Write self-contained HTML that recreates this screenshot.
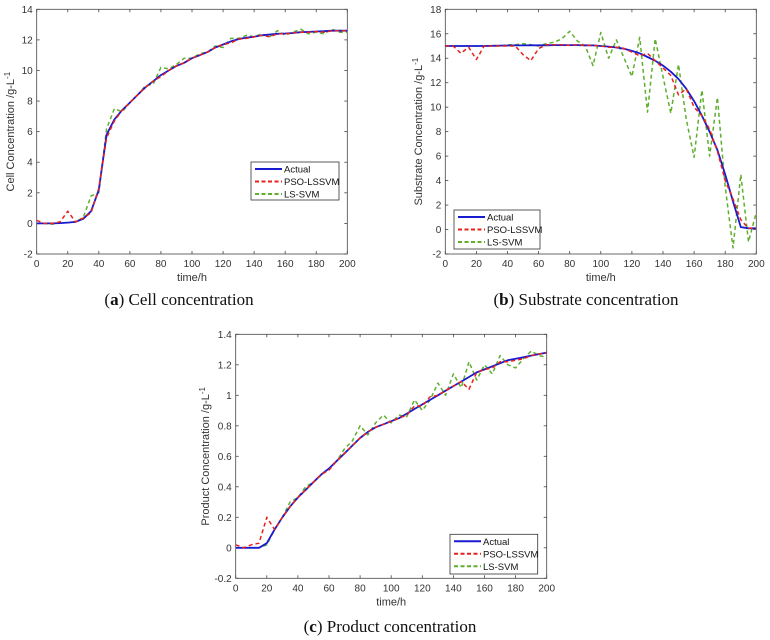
<!DOCTYPE html>
<html><head><meta charset="utf-8"><style>
body{margin:0;background:#fff;width:770px;height:640px;overflow:hidden}
svg{display:block}
.tk{font-family:"Liberation Sans",sans-serif;font-size:10px;fill:#333}
.lb{font-family:"Liberation Sans",sans-serif;font-size:11px;fill:#333}
.cap{font-family:"Liberation Serif",serif;font-size:17px;fill:#111}
</style></head><body>
<svg id="s" width="770" height="640" xmlns="http://www.w3.org/2000/svg"></svg>
<script>
const times=[0,5,10,15,20,25,30,35,40,45,50,55,60,65,70,75,80,85,90,95,100,105,110,115,120,125,130,135,140,145,150,155,160,165,170,175,180,185,190,195,200];
const cellActual=[0,0,0,0.02,0.05,0.1,0.3,0.8,2.2,5.8,6.8,7.4,7.9,8.4,8.9,9.3,9.7,10.0,10.3,10.5,10.8,11.0,11.2,11.5,11.7,11.9,12.05,12.15,12.2,12.3,12.35,12.4,12.42,12.45,12.5,12.52,12.55,12.57,12.6,12.6,12.6];
const cellPSO=[0.2,0,0,0.1,0.8,0.1,0.35,0.7,2.3,5.6,6.7,7.4,7.9,8.4,8.9,9.3,9.6,10.0,10.3,10.5,10.8,11.0,11.2,11.5,11.7,11.8,12.05,12.1,12.2,12.3,12.2,12.4,12.4,12.45,12.5,12.5,12.55,12.5,12.6,12.6,12.6];
const cellLS=[0,0,-0.05,0.05,0.05,0.1,0.4,1.8,2.0,6.2,7.5,7.3,7.9,8.4,9.0,9.1,10.2,10.1,10.4,10.8,10.8,11.1,11.2,11.6,11.5,12.1,12.1,12.3,12.2,12.4,12.2,12.6,12.3,12.5,12.7,12.4,12.5,12.4,12.7,12.5,12.5];
const subActual=[15,15,15,15,15,15,15.02,15.03,15.04,15.05,15.05,15.06,15.06,15.06,15.07,15.07,15.07,15.07,15.06,15.05,15.0,14.95,14.88,14.78,14.6,14.4,14.1,13.8,13.4,12.9,12.3,11.5,10.5,9.3,8.0,6.5,4.5,2.3,0.2,0.1,0.1];
const subPSO=[15,15,14.4,14.9,13.9,15,15,15,15,15,14.3,13.8,14.8,15.1,15.1,15.1,15.05,15.1,15.05,15.05,15.0,14.9,14.9,14.8,14.5,14.2,14.4,13.8,13.2,12.6,11.0,11.5,10.0,9.3,8.2,6.4,4.0,2.5,0.8,0.1,0.1];
const subLS=[15,15,15,15,15,15,15,15,15.1,15.1,15.2,15.1,15.0,15.2,15.3,15.6,16.2,15.4,15.0,13.4,16.1,14.0,15.5,14.0,12.5,15.7,9.6,15.6,12.5,9.5,13.5,9.0,5.9,11.4,6.0,10.8,3.5,-1.5,4.5,-1.0,1.4];
const proActual=[0,0,0,0,0.03,0.12,0.2,0.27,0.33,0.38,0.43,0.48,0.52,0.57,0.62,0.67,0.72,0.76,0.79,0.81,0.83,0.85,0.88,0.91,0.94,0.97,1.0,1.03,1.06,1.09,1.12,1.15,1.17,1.19,1.21,1.23,1.24,1.25,1.26,1.27,1.28];
const proPSO=[0.02,0,0.02,0.03,0.2,0.12,0.2,0.27,0.33,0.38,0.43,0.48,0.51,0.57,0.62,0.67,0.72,0.76,0.79,0.81,0.83,0.85,0.87,0.93,0.93,0.99,1.0,1.03,1.06,1.09,1.04,1.15,1.17,1.18,1.22,1.22,1.23,1.24,1.26,1.27,1.28];
const proLS=[0,0,0,0,0.02,0.12,0.2,0.3,0.33,0.4,0.43,0.48,0.52,0.57,0.65,0.7,0.8,0.74,0.82,0.87,0.82,0.87,0.86,0.97,0.9,0.97,1.08,1.0,1.14,1.05,1.22,1.1,1.2,1.14,1.26,1.2,1.18,1.24,1.29,1.26,1.25];
const xTicks=[0,20,40,60,80,100,120,140,160,180,200];

const S=document.getElementById('s');
const NS='http://www.w3.org/2000/svg';
function mk(tag,attrs,parent,text){const e=document.createElementNS(NS,tag);for(const k in attrs)e.setAttribute(k,attrs[k]);if(text!==undefined)e.textContent=text;(parent||S).appendChild(e);return e;}

function panel(cfg){
  const g=mk('g',{});
  
  
  const {x0,x1,y0,y1,ymin,ymax}=cfg;
  const sx=v=>x0+(v-0)/(200-0)*(x1-x0);
  const sy=v=>y1-(v-ymin)/(ymax-ymin)*(y1-y0);
  const box=mk('rect',{x:x0,y:y0,width:x1-x0,height:y1-y0,fill:'#fff',stroke:'#444','stroke-width':0.8},g);
  
  
  xTicks.forEach(t=>{
    const X=sx(t);
    mk('line',{x1:X,y1:y1,x2:X,y2:y1-3,stroke:'#444','stroke-width':0.8},g);
    mk('line',{x1:X,y1:y0,x2:X,y2:y0+3,stroke:'#444','stroke-width':0.8},g);
    const l=mk('text',{x:X,y:y1+13,'text-anchor':'middle',class:'tk'},g,String(t));
    
    
  });
  cfg.yTicks.forEach((t,i)=>{
    const Y=sy(t);
    mk('line',{x1:x0,y1:Y,x2:x0+3,y2:Y,stroke:'#444','stroke-width':0.8},g);
    mk('line',{x1:x1,y1:Y,x2:x1-3,y2:Y,stroke:'#444','stroke-width':0.8},g);
    const l=mk('text',{x:x0-4,y:Y+3.5,'text-anchor':'end',class:'tk'},g,cfg.yLabels[i]);
    
    
  });
  const xt=mk('text',{x:(x0+x1)/2,y:y1+27,'text-anchor':'middle',class:'lb'},g,'time/h');
  
  
  const yt=mk('text',{x:0,y:0,'text-anchor':'middle',class:'lb',transform:`translate(${cfg.ylx},${(y0+y1)/2}) rotate(-90)`},g);
  yt.innerHTML=cfg.ytitle+' /g-L<tspan dy="-4" font-size="8">-1</tspan>';
  
  
  const series=[[cfg.ls,'#5fae2e','4,3',1.5,'ls-svm-line'],[cfg.pso,'#e8201c','4,3',1.5,'pso-lssvm-line'],[cfg.act,'#1a1ad0',null,1.8,'actual-line']];
  // draw LS first, then actual, then PSO over
  const order=[series[0],series[2],series[1]];
  order.forEach(s=>{
    const d=times.map((t,i)=>(i?'L':'M')+sx(t).toFixed(1)+','+sy(s[0][i]).toFixed(1)).join(' ');
    const a={d:d,fill:'none',stroke:s[1],'stroke-width':s[3],'stroke-linejoin':'round'};
    if(s[2])a['stroke-dasharray']=s[2];
    const p=mk('path',a,g);
    
    
  });
  const L=cfg.leg;
  const lg=mk('g',{},g);
  
  
  mk('rect',{x:L[0],y:L[1],width:L[2],height:L[3],fill:'#fff',stroke:'#333','stroke-width':0.8},lg);
  const items=[['Actual','#1a1ad0',null],['PSO-LSSVM','#e8201c','4,2.5'],['LS-SVM','#5fae2e','4,2.5']];
  items.forEach((it,i)=>{
    const Y=L[1]+7+i*12.5;
    const a={x1:L[0]+4,y1:Y,x2:L[0]+31,y2:Y,stroke:it[1],'stroke-width':2};
    if(it[2])a['stroke-dasharray']=it[2];
    mk('line',a,lg);
    const t=mk('text',{x:L[0]+33,y:Y+3.5,class:'tk',style:'font-size:9.5px;fill:#111'},lg,it[0]);
    
    
  });
  const c=mk('text',{x:cfg.capx,y:cfg.capy,'text-anchor':'middle',class:'cap'},g);
  c.innerHTML='(<tspan font-weight="bold">'+cfg.letter+'</tspan>) '+cfg.cap;
  
  
}
panel({name:'cell-chart',x0:36.7,x1:347.3,y0:9.3,y1:254,ymin:-2,ymax:14,yTicks:[-2,0,2,4,6,8,10,12,14],yLabels:['-2','0','2','4','6','8','10','12','14'],ylx:14,ytitle:'Cell Concentration',act:cellActual,pso:cellPSO,ls:cellLS,leg:[251,162,88,38],capx:179,capy:305,letter:'a',cap:'Cell concentration'});
panel({name:'substrate-chart',x0:445.3,x1:756.3,y0:9.3,y1:254,ymin:-2,ymax:18,yTicks:[-2,0,2,4,6,8,10,12,14,16,18],yLabels:['-2','0','2','4','6','8','10','12','14','16','18'],ylx:422,ytitle:'Substrate Concentration',act:subActual,pso:subPSO,ls:subLS,leg:[454,210,86,39],capx:586,capy:305,letter:'b',cap:'Substrate concentration'});
panel({name:'product-chart',x0:235.7,x1:546.7,y0:334.3,y1:578.3,ymin:-0.2,ymax:1.4,yTicks:[-0.2,0,0.2,0.4,0.6,0.8,1,1.2,1.4],yLabels:['-0.2','0','0.2','0.4','0.6','0.8','1','1.2','1.4'],ylx:209,ytitle:'Product Concentration',act:proActual,pso:proPSO,ls:proLS,leg:[450,534.3,87.7,39.7],capx:390,capy:632,letter:'c',cap:'Product concentration'});
</script>
</body></html>
